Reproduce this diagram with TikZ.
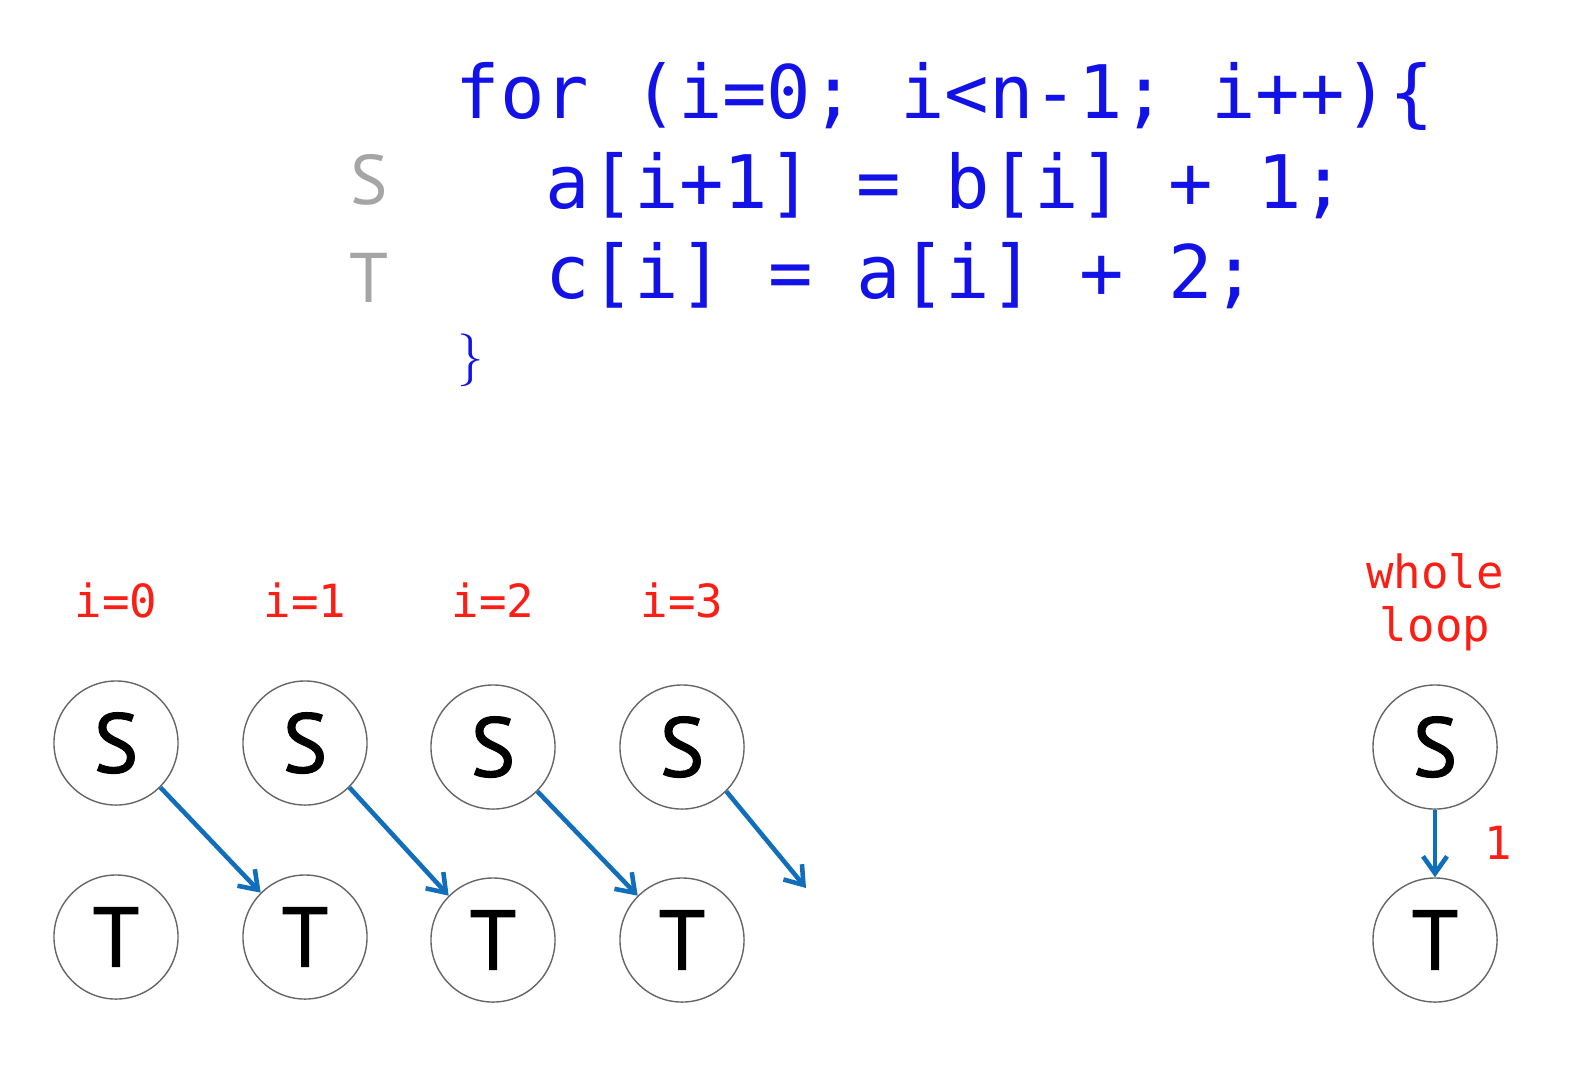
\documentclass[tikz,border=0pt]{standalone}
\usepackage{fontspec}
\newfontfamily\sansfont{PT Sans}
\newfontfamily\letterfont{PT Sans}[FakeBold=1.2]
\newfontfamily\codefont{DejaVu Sans Mono}
\usepackage{tikz}
\usetikzlibrary{positioning,arrows.meta}
\definecolor{codeblue}{RGB}{18,18,232}
\definecolor{labelred}{RGB}{250,30,20}
\definecolor{depblue}{RGB}{16,110,186}
\definecolor{stmtgrey}{RGB}{165,165,165}
\tikzset{>={Straight Barb[length=1.7mm,width=2.4mm]}}

\begin{document}
\begin{tikzpicture}[x=0.01cm,y=-0.01cm,
    stmt/.style={circle,draw=black!60,line width=0.4pt,minimum size=1.24cm,inner sep=0pt,
                 font=\letterfont\fontsize{24}{24}\selectfont},
    code/.style={anchor=base west,inner sep=0pt,text=codeblue,
                 font=\codefont\fontsize{21}{21}\selectfont},
    iter/.style={text=labelred,font=\codefont\fontsize{13}{15}\selectfont},
    dep/.style={->,draw=depblue,line width=1.3pt}]
      \useasboundingbox (0,0) rectangle (1571,1075);

      % the loop
      \node[code] (forL)  at (455,118) {for (i=0; i<n-1; i++)\{};
      \node[code] (stmtS) at (545,208) {a[i+1] = b[i] + 1;};
      \node[code] (stmtT) at (545,298) {c[i] = a[i] + 2;};
      \node[text=codeblue,font=\fontsize{15}{15}\selectfont] (closeB) at (471,360) {\}};

      \node[text=stmtgrey,font=\sansfont\fontsize{20}{20}\selectfont] (labS) at (369,180) {S};
      \node[text=stmtgrey,font=\sansfont\fontsize{20}{20}\selectfont] (labT) at (369,278) {T};

      % iterations
      \node[iter] (it0) at (116,600) {i=0};
      \node[iter] (it1) at (305,600) {i=1};
      \node[iter] (it2) at (493,600) {i=2};
      \node[iter] (it3) at (682,600) {i=3};

      \node[stmt] (s0) at (116,743) {S};
      \node[stmt] (s1) at (305,743) {S};
      \node[stmt] (s2) at (493,747) {S};
      \node[stmt] (s3) at (682,747) {S};

      \node[stmt] (t0) at (116,937) {T};
      \node[stmt] (t1) at (305,937) {T};
      \node[stmt] (t2) at (493,940) {T};
      \node[stmt] (t3) at (682,940) {T};

      \coordinate (endA) at (806,888);

      \draw[dep] (s0.south east) -- (t1.north west);
      \draw[dep] (s1.south east) -- (t2.north west);
      \draw[dep] (s2.south east) -- (t3.north west);
      \draw[dep] (s3.south east) -- (endA);

      % whole loop
      \node[iter,align=center] (whole) at (1435,602) {whole\\loop};
      \node[stmt] (sw) at (1435,747) {S};
      \node[stmt] (tw) at (1435,940) {T};
      \draw[dep] (sw) -- (tw);
      \node[iter] (distW) at (1498,843) {1};
\end{tikzpicture}
\end{document}
